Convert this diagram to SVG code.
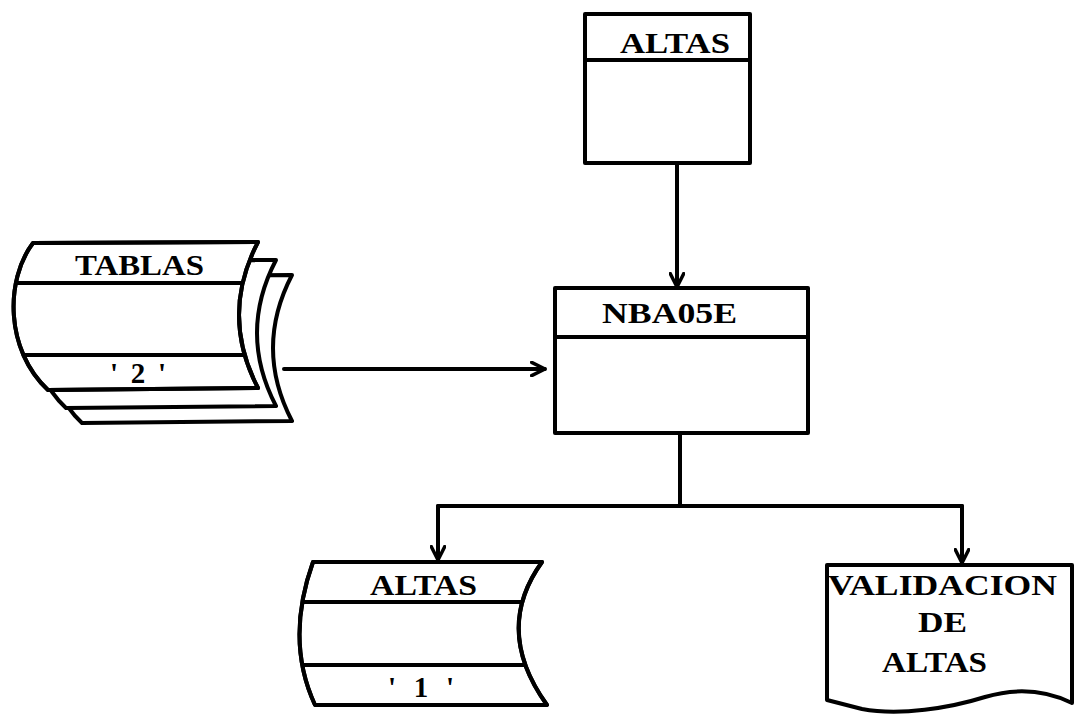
<svg xmlns="http://www.w3.org/2000/svg" width="1075" height="714" viewBox="0 0 1075 714">
<style>
.s{fill:#fff;stroke:#000;stroke-width:4;stroke-linejoin:round;stroke-linecap:round}
.l{fill:none;stroke:#000;stroke-width:4;stroke-linecap:round}
.t{font-family:"Liberation Serif","Times New Roman",serif;font-weight:bold;font-size:29px;fill:#000}
</style>
<defs>
<marker id="arr" viewBox="0 0 12 12" refX="11" refY="6" markerWidth="16" markerHeight="16" markerUnits="userSpaceOnUse" orient="auto">
<path d="M1,1 L11,6 L1,11" fill="none" stroke="#000" stroke-width="2.6" stroke-linecap="round" stroke-linejoin="round"/>
</marker>
<path id="sheet" d="M33,243 L258,242 Q220,315 258,388 L48,390 C5,350 5,280 33,243 Z"/>
<path id="alt" d="M313,562 L542,562 Q493,630 547,705 L315,705 Q285,640 313,562 Z"/>
<clipPath id="c1"><use href="#sheet"/></clipPath>
<clipPath id="c2"><use href="#alt"/></clipPath>
</defs>

<g id="connectors">
<line class="l" x1="677" y1="163" x2="677" y2="287" marker-end="url(#arr)"/>
<line class="l" x1="284" y1="369" x2="545" y2="369" marker-end="url(#arr)"/>
<polyline class="l" points="680,433 680,506"/>
<line class="l" x1="438" y1="506" x2="962" y2="506"/>
<line class="l" x1="438" y1="506" x2="438" y2="560" marker-end="url(#arr)"/>
<line class="l" x1="962" y1="506" x2="962" y2="563" marker-end="url(#arr)"/>
</g>

<g id="altas-in">
<rect class="s" x="585" y="14" width="165" height="149"/>
<line class="l" x1="585" y1="60" x2="750" y2="60"/>
<text class="t" x="620" y="53" textLength="110" lengthAdjust="spacingAndGlyphs">ALTAS</text>
</g>

<g id="tablas">
<use href="#sheet" class="s" transform="translate(34,33)"/>
<use href="#sheet" class="s" transform="translate(18,18)"/>
<use href="#sheet" class="s"/>
<g clip-path="url(#c1)">
<line class="l" x1="0" y1="283" x2="300" y2="283"/>
<line class="l" x1="0" y1="355" x2="300" y2="355"/>
</g>
<use href="#sheet" fill="none" stroke="#000" stroke-width="4" stroke-linejoin="round"/>
<text class="t" x="75" y="275" textLength="129" lengthAdjust="spacingAndGlyphs">TABLAS</text>
<text class="t" x="110" y="383" textLength="56" lengthAdjust="spacing">'2'</text>
</g>

<g id="nba05e">
<rect class="s" x="555" y="288" width="253" height="145"/>
<line class="l" x1="555" y1="337" x2="808" y2="337"/>
<text class="t" x="602" y="323" textLength="135" lengthAdjust="spacingAndGlyphs">NBA05E</text>
</g>

<g id="altas-out">
<use href="#alt" class="s"/>
<g clip-path="url(#c2)">
<line class="l" x1="280" y1="602" x2="560" y2="602"/>
<line class="l" x1="280" y1="665" x2="560" y2="665"/>
</g>
<use href="#alt" fill="none" stroke="#000" stroke-width="4" stroke-linejoin="round"/>
<text class="t" x="370" y="595" textLength="107" lengthAdjust="spacingAndGlyphs">ALTAS</text>
<text class="t" x="388" y="697" textLength="66" lengthAdjust="spacing">'1'</text>
</g>

<g id="validacion">
<path class="s" d="M827,565 H1072 V703 C1045,690 1015,688 985,697 C950,708 900,716 862,709 L827,700 Z"/>
<text class="t" x="828" y="595" textLength="229" lengthAdjust="spacingAndGlyphs">VALIDACION</text>
<text class="t" x="918" y="632" textLength="49" lengthAdjust="spacingAndGlyphs">DE</text>
<text class="t" x="882" y="672" textLength="105" lengthAdjust="spacingAndGlyphs">ALTAS</text>
</g>
</svg>
